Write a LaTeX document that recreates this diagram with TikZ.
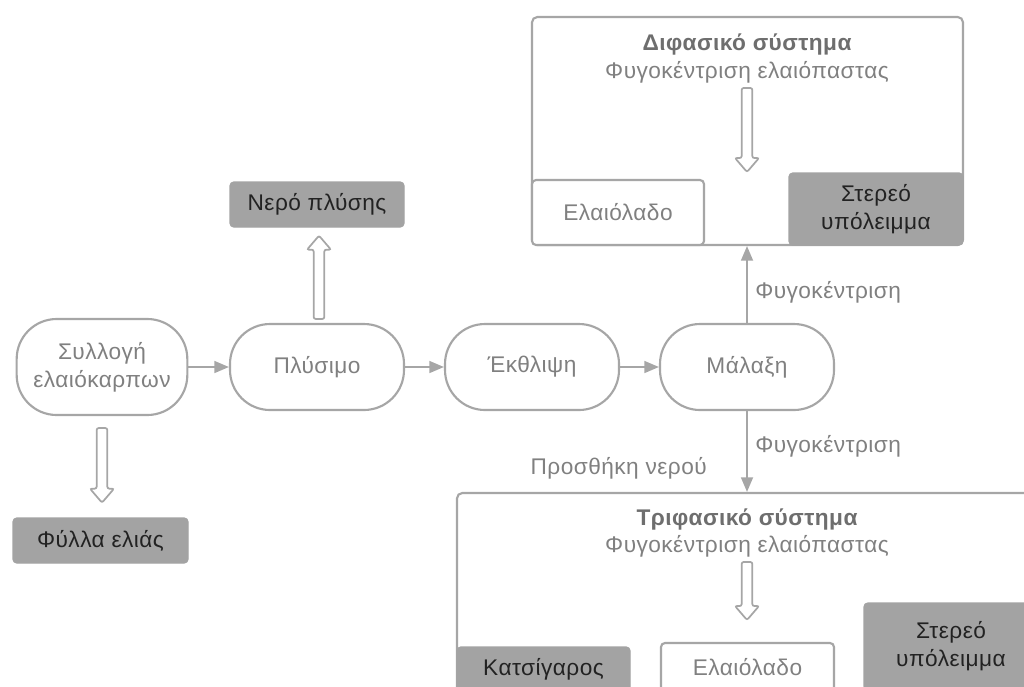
\documentclass[tikz,border=0pt]{standalone}
\usepackage{fontspec}
\setmainfont{Liberation Sans}[LetterSpace=2]
\usetikzlibrary{arrows.meta,calc}
\definecolor{lineg}{HTML}{A6A6A6}
\definecolor{fillg}{HTML}{A3A3A3}
\definecolor{textg}{HTML}{808080}
\definecolor{titleg}{HTML}{6E6E6E}
\definecolor{darkt}{HTML}{222222}
\tikzset{
  base/.style={font=\fontsize{17pt}{21pt}\selectfont, align=center, inner sep=0pt},
  stadium/.style={base, draw=lineg, line width=1.6pt, fill=white, rounded corners=30pt, text=textg, minimum width=130.5pt, minimum height=64.5pt},
  darkbox/.style={base, fill=fillg, draw=fillg, line width=1pt, rounded corners=3pt, text=darkt},
  whitebox/.style={base, fill=white, draw=lineg, line width=1.6pt, rounded corners=3pt, text=textg},
  bigbox/.style={draw=lineg, line width=1.6pt, rounded corners=4pt, fill=white},
  lbl/.style={base, text=textg},
  ttl/.style={base, text=titleg, font=\fontsize{17pt}{21pt}\selectfont\bfseries},
  flow/.style={draw=lineg, line width=1.3pt, -{Triangle[length=11pt,width=9pt]}},
  hollow/.style={draw=lineg, line width=1.3pt, fill=white, rounded corners=1.5pt},
}
\newcommand\hollowarrow[2]{%
  \draw[hollow] let \p1=#1, \p2=#2, \n1={(\y2-\y1)/abs(\y2-\y1)} in
    (\x1-4pt,\y1) -- (\x1-4pt,\y2-\n1*10.5pt) -- (\x1-9pt,\y2-\n1*10.5pt)
    -- (\x1,\y2) -- (\x1+9pt,\y2-\n1*10.5pt) -- (\x1+4pt,\y2-\n1*10.5pt)
    -- (\x1+4pt,\y1) -- cycle;}
\begin{document}
\begin{tikzpicture}[x=0.75pt,y=-0.75pt]
\useasboundingbox (0,0) rectangle (1024,686);
\clip (0,0) rectangle (1024,686);
% main row
\node[stadium, minimum width=128pt, minimum height=72pt] (coll) at (102,367) {Συλλογή\\ελαιόκαρπων};
\node[stadium] (plys) at (317,367) {Πλύσιμο};
\node[stadium] (ekth) at (532,367) {Έκθλιψη};
\node[stadium] (mal) at (747,367) {Μάλαξη};
% outputs
\node[darkbox, minimum width=130.5pt, minimum height=33.75pt] (nero) at (317,204.5) {Νερό πλύσης};
\node[darkbox, minimum width=131.25pt, minimum height=33.75pt] (fylla) at (100.5,540.5) {Φύλλα ελιάς};
% two-phase system
\node[bigbox, minimum width=323.25pt, minimum height=171pt, inner sep=0pt] (top) at (747.5,131) {};
\node[ttl] (toptitle) at (747,45) {Διφασικό σύστημα};
\node[lbl] (topsub) at (747,72) {Φυγοκέντριση ελαιόπαστας};
\node[whitebox, minimum width=129pt, minimum height=48.75pt] (oil1) at (618,212.5) {Ελαιόλαδο};
\node[darkbox, minimum width=130.5pt, minimum height=54pt] (sol1) at (876,209) {Στερεό\\υπόλειμμα};
% three-phase system
\node[bigbox, minimum width=482.25pt, minimum height=185.25pt, inner sep=0pt] (bot) at (778.5,616.5) {};
\node[ttl] (bottitle) at (747,519) {Τριφασικό σύστημα};
\node[lbl] (botsub) at (747,546) {Φυγοκέντριση ελαιόπαστας};
\node[darkbox, minimum width=129.75pt, minimum height=33.75pt] (kats) at (543.5,669.5) {Κατσίγαρος};
\node[whitebox, minimum width=129.75pt, minimum height=36.75pt] (oil2) at (747.5,667.5) {Ελαιόλαδο};
\node[darkbox, minimum width=130.5pt, minimum height=65.25pt] (sol2) at (951,646.5) {Στερεό\\υπόλειμμα};
% flow arrows
\draw[flow] (coll) -- (plys);
\draw[flow] (plys) -- (ekth);
\draw[flow] (ekth) -- (mal);
\draw[flow] (mal.north) -- (mal.north |- top.south);
\draw[flow] (mal.south) -- (mal.south |- bot.north);
\node[lbl, anchor=west] (fy1) at (755,292) {Φυγοκέντριση};
\node[lbl, anchor=west] (fy2) at (755,446) {Φυγοκέντριση};
\node[lbl, anchor=east] (water) at (707,468) {Προσθήκη νερού};
% hollow arrows
\coordinate (h1a) at ([xshift=0pt,yshift=-9pt]coll.south);
\coordinate (h1b) at ([xshift=1pt,yshift=11pt]fylla.north);
\hollowarrow{(h1a)}{(h1a |- h1b)}
\coordinate (h2a) at ([xshift=1.5pt,yshift=3pt]plys.north);
\coordinate (h2b) at ([yshift=-6pt]nero.south);
\hollowarrow{(h2a)}{(h2a |- h2b)}
\coordinate (h3a) at (747,88);
\coordinate (h3b) at (747,172);
\hollowarrow{(h3a)}{(h3b)}
\coordinate (h4a) at (747,562);
\coordinate (h4b) at (747,620);
\hollowarrow{(h4a)}{(h4b)}
\end{tikzpicture}
\end{document}
